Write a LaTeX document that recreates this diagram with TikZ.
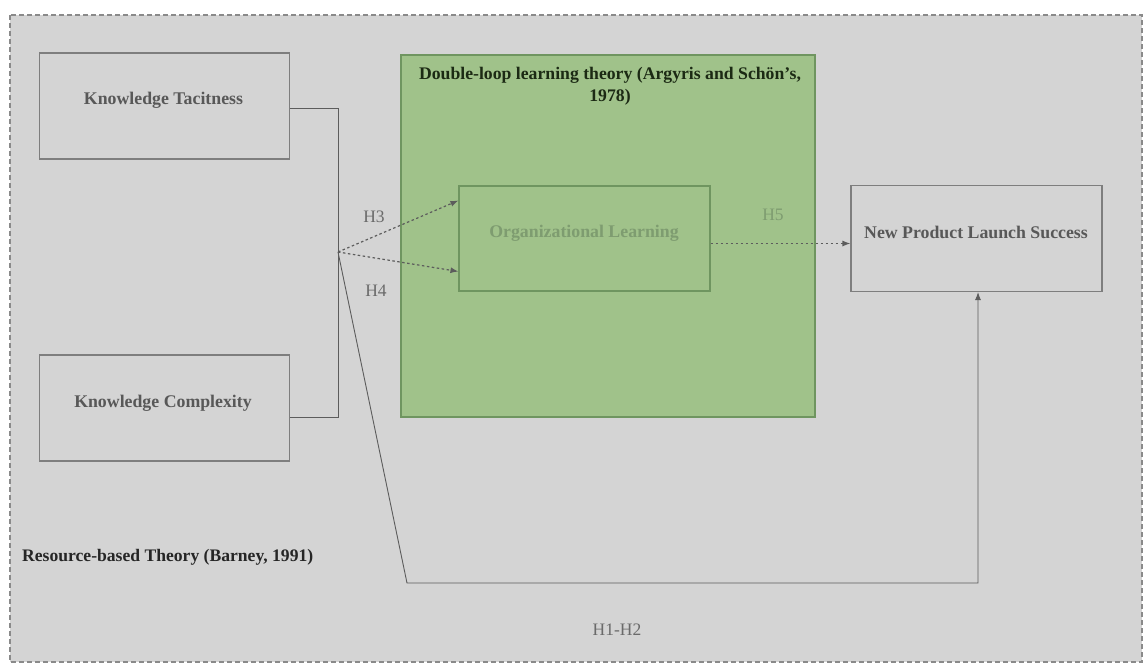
\documentclass[tikz,border=0pt]{standalone}
\usepackage{fontspec}
\setmainfont{Liberation Serif}
\usetikzlibrary{arrows.meta}
\definecolor{bgc}{HTML}{D4D4D4}
\definecolor{outerc}{HTML}{8A8A8A}
\definecolor{boxc}{HTML}{7E7E7E}
\definecolor{boxtxt}{HTML}{585858}
\definecolor{greenfill}{HTML}{A0C28A}
\definecolor{greenline}{HTML}{6F9560}
\definecolor{titletxt}{HTML}{1C2A14}
\definecolor{orgtxt}{HTML}{7E9C70}
\definecolor{htxt}{HTML}{6A6A6A}
\definecolor{linec}{HTML}{5C5C5C}
\tikzset{
  kbox/.style={draw=boxc, line width=1.1pt, inner sep=0pt, minimum width=250pt, minimum height=106pt},
  btext/.style={font=\fontsize{17.8}{20}\selectfont\bfseries, text=boxtxt, inner sep=0pt},
  hlabel/.style={font=\fontsize{17.5}{20}\selectfont, text=htxt, inner sep=0pt},
  conn/.style={draw=linec, line width=0.9pt},
  dconn/.style={draw=linec, line width=1.2pt, dash pattern=on 2.5pt off 2.5pt},
  tip/.style={-{Latex[length=8pt,width=6pt]}}
}
\begin{document}
\begin{tikzpicture}[x=1pt,y=-1pt]
\useasboundingbox (0,0) rectangle (1145,666);
\fill[white] (0,0) rectangle (1145,666);
% outer frame
\draw[fill=bgc, draw=outerc, line width=1.2pt, dash pattern=on 5pt off 3pt] (10,15) rectangle (1142,662);
% green theory box
\node[draw=greenline, fill=greenfill, line width=1.4pt, minimum width=414pt, minimum height=362pt, inner sep=0pt] (dl) at (608,236) {};
\node[font=\fontsize{17.7}{22}\selectfont\bfseries, text=titletxt, align=center, inner sep=0pt] (dlt) at (610,86.5) {Double-loop learning theory (Argyris and Sch\"on's,\\1978)};
% boxes
\node[kbox] (kt) at (164.5,106) {};
\node[btext] (ktt) at (163.5,100) {Knowledge Tacitness};
\node[kbox] (kc) at (164.5,408) {};
\node[btext] (kct) at (163,403) {Knowledge Complexity};
\node[draw=greenline, line width=1.1pt, inner sep=0pt, minimum width=251pt, minimum height=105pt] (ol) at (584.5,238.5) {};
\node[btext, text=orgtxt] (olt) at (584,233) {Organizational Learning};
\node[kbox, minimum width=251pt] (np) at (976.5,238.5) {};
\node[btext] (npt) at (976,232.5) {New Product Launch Success};
% bracket joining the two knowledge boxes
\coordinate (b1) at (338,108);
\coordinate (b2) at (338,417);
\coordinate (j) at (338,252);
\draw[conn] (kt.east |- b1) -- (b1) -- (b2) -- (kc.east |- b2);
% H3 / H4 dashed arrows
\draw[dconn, tip] (j) -- ([yshift=-33pt]ol.west);
\draw[dconn, tip] (j) -- ([yshift=38pt]ol.west);
\node[hlabel] (h3) at (374,217) {H3};
\node[hlabel] (h4) at (376,291) {H4};
% H5
\draw[dconn, tip] ([yshift=-5pt]ol.east) -- ([yshift=-5pt]np.west);
\node[hlabel, text=orgtxt] (h5) at (773,215) {H5};
% H1-H2 path
\coordinate (c1) at (407,583);
\coordinate (c2) at (978,583);
\draw[conn, tip] (j) -- (c1) -- (c2) -- (np.south -| c2);
\node[hlabel] (h12) at (617,630) {H1-H2};
% theory label
\node[font=\fontsize{17.6}{20}\selectfont\bfseries, text=black!85, anchor=west, inner sep=0pt] (rbt) at (22,557) {Resource-based Theory (Barney, 1991)};
\end{tikzpicture}
\end{document}
